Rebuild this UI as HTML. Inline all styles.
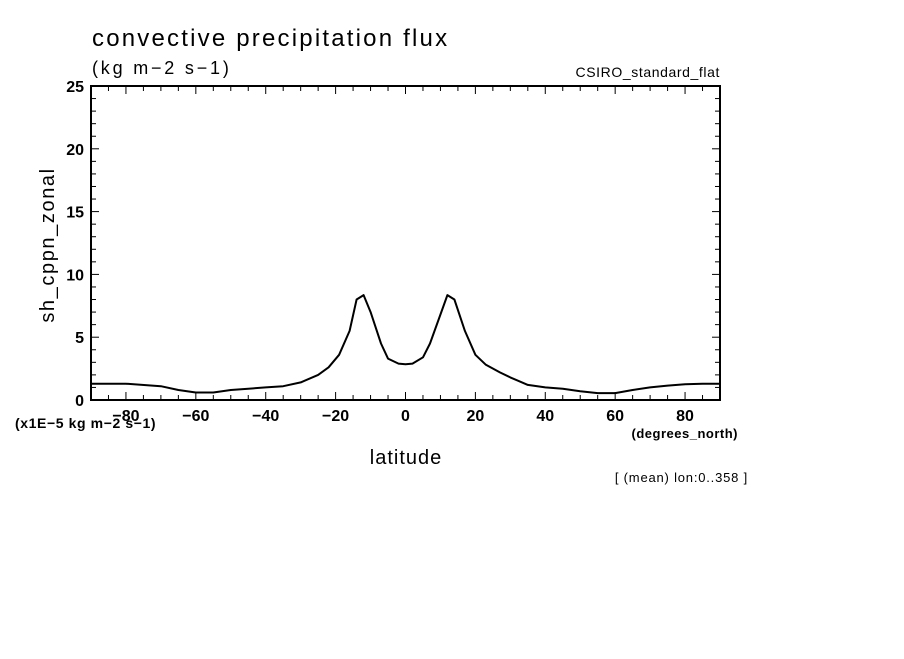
<!DOCTYPE html>
<html><head><meta charset="utf-8"><style>
body{margin:0;background:#fff;width:904px;height:654px;overflow:hidden}
svg text{font-family:"Liberation Sans",sans-serif;fill:#000}
</style></head><body>
<svg id="chart" width="904" height="654">
<text x="92" y="46" font-size="24" letter-spacing="2.2">convective precipitation flux</text>
<text x="92" y="74" font-size="18" letter-spacing="2.8">(kg m−2 s−1)</text>
<text x="720" y="77" font-size="14" letter-spacing="0.6" text-anchor="end">CSIRO_standard_flat</text>
<text x="15" y="428" font-size="14" font-weight="bold" letter-spacing="0.6">(x1E−5 kg m−2 s−1)</text>
<text x="738" y="438" font-size="13" font-weight="bold" letter-spacing="0.5" text-anchor="end">(degrees_north)</text>
<text x="406" y="464" font-size="20" letter-spacing="1" text-anchor="middle">latitude</text>
<text x="748" y="482" font-size="13" letter-spacing="0.8" text-anchor="end">[ (mean) lon:0..358 ]</text>
<text transform="translate(54,245) rotate(-90)" font-size="20" letter-spacing="1.6" text-anchor="middle">sh_cppn_zonal</text>
<g id="axes"></g>
<path id="line" fill="none" stroke="#000" stroke-width="2" stroke-linejoin="round"/>
</svg>
<script>
const lats=[-90,-80,-70,-65,-60,-55,-50,-45,-40,-35,-30,-25,-22,-19,-16,-14,-12,-10,-7,-5,-2,0,2,5,7,10,12,14,17,20,23,27,30,35,40,45,50,55,60,65,70,75,80,85,90];
const vals=[1.3,1.3,1.1,0.8,0.6,0.6,0.8,0.9,1.0,1.1,1.4,2.0,2.6,3.6,5.5,8.0,8.35,7.0,4.5,3.3,2.9,2.85,2.9,3.4,4.5,6.8,8.35,8.0,5.5,3.6,2.8,2.2,1.8,1.2,1.0,0.9,0.7,0.55,0.55,0.8,1.0,1.15,1.25,1.3,1.3];
const xTicks=[-80,-60,-40,-20,0,20,40,60,80];
const yTicks=[0,5,10,15,20,25];
const X0=91,X1=720,Y0=400,Y1=86;
const xs=v=>X0+(v+90)/180*(X1-X0);
const ys=v=>Y0-v/25*(Y0-Y1);
const NS="http://www.w3.org/2000/svg";
const g=document.getElementById('axes');
function ln(x1,y1,x2,y2,w){const l=document.createElementNS(NS,'line');l.setAttribute('x1',x1);l.setAttribute('y1',y1);l.setAttribute('x2',x2);l.setAttribute('y2',y2);l.setAttribute('stroke','#000');l.setAttribute('stroke-width',w||1);g.appendChild(l);return l;}
const fr=document.createElementNS(NS,'rect');
fr.setAttribute('x',X0);fr.setAttribute('y',Y1);fr.setAttribute('width',X1-X0);fr.setAttribute('height',Y0-Y1);
fr.setAttribute('fill','none');fr.setAttribute('stroke','#000');fr.setAttribute('stroke-width','2');


g.appendChild(fr);
for(let d=-90;d<=90;d+=5){const x=xs(d);const L=(d%20===0)?8:5;ln(x,Y0,x,Y0-L);ln(x,Y1,x,Y1+L);}
for(let v=0;v<=25;v+=1){const y=ys(v);const L=(v%5===0)?8:5;ln(X0,y,X0+L,y);ln(X1,y,X1-L,y);}
xTicks.forEach(t=>{const tx=document.createElementNS(NS,'text');tx.setAttribute('x',xs(t));tx.setAttribute('y',421);tx.setAttribute('font-size','16');tx.setAttribute('font-weight','bold');tx.setAttribute('text-anchor','middle');tx.textContent=(t<0?'−'+(-t):t);


g.appendChild(tx);});
yTicks.forEach(t=>{const tx=document.createElementNS(NS,'text');tx.setAttribute('x',84);tx.setAttribute('y',ys(t)+6);tx.setAttribute('font-size','16');tx.setAttribute('font-weight','bold');tx.setAttribute('text-anchor','end');tx.textContent=t;


g.appendChild(tx);});
document.getElementById('line').setAttribute('d',lats.map((la,i)=>(i?'L':'M')+xs(la).toFixed(1)+' '+ys(vals[i]).toFixed(1)).join(' '));
</script>
</body></html>
